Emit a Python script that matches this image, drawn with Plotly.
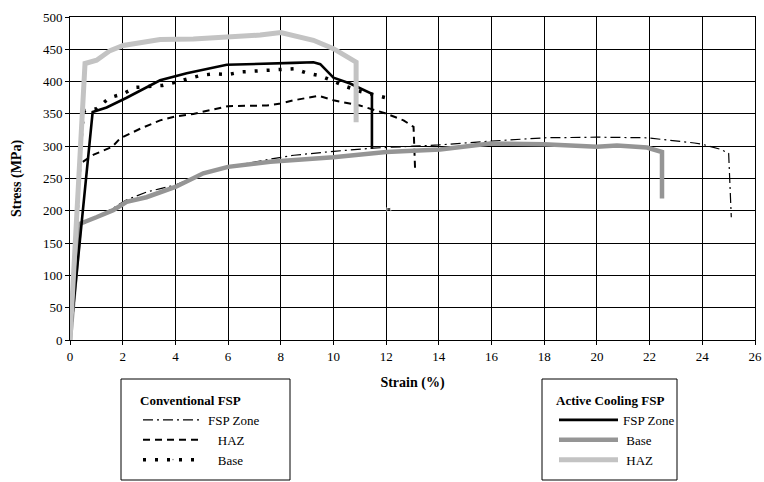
import plotly.graph_objects as go

# ---------------- data ----------------
conv_fsp_strain = [0, 0.3, 0.6, 1.0, 1.6, 2.1, 2.9, 3.4, 4.0, 5.0, 6.0, 7.6, 8.5, 10.0, 11.5,
                   13.0, 14.0, 16.0, 18.0, 20.0, 21.9, 23.7, 24.0, 24.7, 25.0, 25.1]
conv_fsp_stress = [0, 175, 182, 190, 203, 216, 229, 234, 240, 256, 268, 280, 286, 292, 297,
                   300, 302, 308, 313, 314, 313, 305, 303, 295, 289, 190]

conv_haz_strain = [0, 0.38, 0.9, 1.6, 1.9, 2.66, 3.42, 4.0, 4.68, 6.0, 7.47, 8.0, 8.48, 9.44,
                   10.0, 11.0, 11.96, 12.66, 13.04, 13.1]
conv_haz_stress = [0, 273, 287, 299, 312, 327, 340, 346, 350, 362, 363, 366, 371, 378,
                   371, 363, 351, 340, 330, 262]

conv_base_strain = [0, 0.38, 0.45, 0.55, 1.0, 1.5, 2.0, 2.5, 3.0, 3.5, 4.0, 4.5, 5.0, 5.5, 6.0,
                    6.5, 7.0, 7.5, 8.0, 8.5, 9.0, 9.5, 10.5, 11.0, 11.5, 12.0, None, 12.1]
conv_base_stress = [0, 294, 330, 355, 358, 375, 381, 391, 393, 394, 399, 404, 410, 412, 411,
                    415, 416, 417, 418, 420, 413, 409, 392, 385, 380, 375, None, 202]

act_fsp_strain = [0, 0.86, 1.39, 2.15, 3.42, 4.43, 5.95, 7.22, 8.48, 9.24, 9.5, 10.0, 10.63,
                  11.46, 11.46]
act_fsp_stress = [0, 353, 360, 375, 402, 413, 426, 428, 429, 430, 427, 406, 397, 381, 296]

act_base_strain = [0, 0.38, 1.0, 1.64, 2.15, 2.9, 4.0, 5.06, 6.0, 7.6, 10.0, 12.0, 14.05,
                   15.95, 17.98, 20.0, 20.76, 21.9, 22.47, 22.47]
act_base_stress = [0, 180, 190, 201, 214, 221, 237, 258, 268, 276, 283, 291, 295,
                   304, 303, 299, 301, 298, 291, 219]

act_haz_strain = [0, 0.57, 1.01, 1.52, 2.02, 3.42, 4.68, 6.0, 7.22, 8.0, 9.24, 10.0, 10.86, 10.86]
act_haz_stress = [0, 428, 433, 448, 456, 465, 466, 469, 472, 476, 464, 451, 430, 337]

x_range = [0, 26]
x_step = 2
y_range = [0, 500]
y_step = 50

conv_title = "Conventional FSP"
act_title = "Active Cooling FSP"
conv_names = ["FSP Zone", "HAZ", "Base"]
act_names = ["FSP Zone", "Base", "HAZ"]

# ---------------- figure ----------------
FONT = "Liberation Serif"
NB = "\u00a0"
fig = go.Figure()

fig.add_trace(go.Scatter(x=conv_fsp_strain, y=conv_fsp_stress, mode="lines",
                         name=conv_names[0], legend="legend",
                         line=dict(color="black", width=1.2, dash="10px,4px,2px,4px")))
fig.add_trace(go.Scatter(x=conv_haz_strain, y=conv_haz_stress, mode="lines",
                         name=NB * 3 + conv_names[1], legend="legend",
                         line=dict(color="black", width=2, dash="7px,5px")))
base_sizes = [0] * (len(conv_base_strain) - 1) + [4]
fig.add_trace(go.Scatter(x=conv_base_strain, y=conv_base_stress, mode="lines+markers",
                         name=NB * 3 + conv_names[2], legend="legend",
                         connectgaps=False,
                         marker=dict(size=base_sizes, symbol="square", color="black"),
                         line=dict(color="black", width=3.5, dash="3px,9px")))

fig.add_trace(go.Scatter(x=act_base_strain, y=act_base_stress, mode="lines",
                         name=NB + act_names[1], legend="legend2", legendrank=2,
                         line=dict(color="#959595", width=4.5)))
fig.add_trace(go.Scatter(x=act_fsp_strain, y=act_fsp_stress, mode="lines",
                         name=act_names[0], legend="legend2", legendrank=1,
                         line=dict(color="black", width=2.6)))
fig.add_trace(go.Scatter(x=act_haz_strain, y=act_haz_stress, mode="lines",
                         name=NB + act_names[2], legend="legend2", legendrank=3,
                         line=dict(color="#c3c3c3", width=5)))

# plot area in pixels: x 70..755, y 17..340
def px_x(p):
    return (p - 70) / 685.0

def px_y(p):
    return (340 - p) / 323.0

legend_common = dict(
    bgcolor="rgba(0,0,0,0)", borderwidth=0,
    font=dict(family=FONT, size=13, color="black"),
    xanchor="left", yanchor="top", yref="paper", xref="paper",
    tracegroupgap=0, traceorder="normal",
)

axis_common = dict(
    showgrid=True, gridcolor="#000000", gridwidth=1,
    showline=True, linecolor="#000000", linewidth=1, mirror=True,
    ticks="outside", ticklen=4, tickcolor="#000000",
    zeroline=False, automargin=False,
    tickfont=dict(family=FONT, size=13, color="black"),
)

fig.update_layout(
    template="none",
    width=764, height=482,
    margin=dict(l=70, r=9, t=17, b=142, autoexpand=False),
    paper_bgcolor="white", plot_bgcolor="white",
    font=dict(family=FONT, size=13, color="black"),
    showlegend=True,
    legend=dict(x=px_x(138), y=px_y(388), itemwidth=60,
                title=dict(text="<b>" + conv_title + "</b>",
                           font=dict(family=FONT, size=13)),
                **legend_common),
    legend2=dict(x=px_x(554), y=px_y(388), itemwidth=59,
                 title=dict(text="<b>" + act_title + "</b>",
                            font=dict(family=FONT, size=13)),
                 **legend_common),
    xaxis=dict(range=x_range, tickmode="linear", tick0=0, dtick=x_step,
               title=dict(text="<b>Strain (%)</b>", font=dict(family=FONT, size=14, color="black"),
                          standoff=14),
               **axis_common),
    yaxis=dict(range=y_range, tickmode="linear", tick0=0, dtick=y_step,
               title=dict(text="<b>Stress (MPa)</b>", font=dict(family=FONT, size=14, color="black"),
                          standoff=18),
               **axis_common),
    shapes=[
        dict(type="rect", xref="paper", yref="paper", layer="above",
             x0=px_x(121), x1=px_x(290), y0=px_y(480), y1=px_y(379),
             line=dict(color="black", width=1), fillcolor="rgba(0,0,0,0)"),
        dict(type="rect", xref="paper", yref="paper", layer="above",
             x0=px_x(542), x1=px_x(677), y0=px_y(480), y1=px_y(379),
             line=dict(color="black", width=1), fillcolor="rgba(0,0,0,0)"),
    ],
)

fig.write_html("out.html", config={"displayModeBar": False},
               post_script="document.body.style.margin='0';")
